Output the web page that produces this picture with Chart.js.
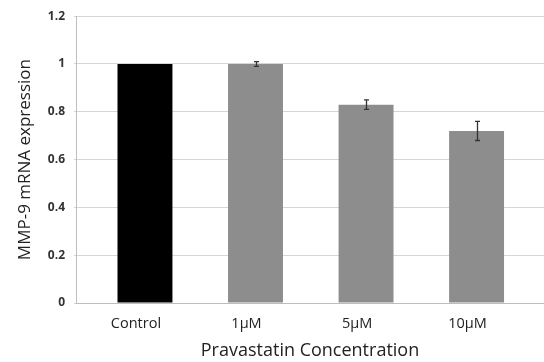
<!DOCTYPE html>
<html>
<head>
<meta charset="utf-8">
<script src="https://cdn.jsdelivr.net/npm/chart.js@4.4.1/dist/chart.umd.min.js"></script>
<style>
  html, body { margin: 0; padding: 0; background: #fff; overflow: hidden; }
  #wrap { width: 544px; height: 362px; }
</style>
</head>
<body>
<div id="wrap"><canvas id="barChart"></canvas></div>
<script>
// datos
const categories = ['Control', '1µM', '5µM', '10µM'];
const expression = [1, 1.0, 0.83, 0.72];
const errors = [0, 0.01, 0.02, 0.04];
const yTicks = [0, 0.2, 0.4, 0.6, 0.8, 1, 1.2];

const FONT = '"Open Sans", Lato, sans-serif';

// barras de error dibujadas con las escalas del grafico
const errorBars = {
    id: 'errorBars',
    afterDatasetsDraw(chart) {
        const { ctx, scales: { x, y } } = chart;
        ctx.save();
        ctx.strokeStyle = '#333';
        ctx.lineWidth = 1.3;
        expression.forEach((v, i) => {
            if (!errors[i]) return;
            const px = Math.round(x.getPixelForValue(i)) + 0.5;
            const top = y.getPixelForValue(v + errors[i]);
            const bot = y.getPixelForValue(v - errors[i]);
            ctx.beginPath();
            ctx.moveTo(px, top); ctx.lineTo(px, bot);
            ctx.moveTo(px - 2.5, top); ctx.lineTo(px + 2.5, top);
            ctx.moveTo(px - 2.5, bot); ctx.lineTo(px + 2.5, bot);
            ctx.stroke();
        });
        ctx.restore();
    }
};

const ctx = document.getElementById('barChart').getContext('2d');
new Chart(ctx, {
    type: 'bar',
    data: {
        datasets: [{
            data: expression.map((v, i) => ({ x: i, y: v })),
            backgroundColor: categories.map((c, i) => i === 0 ? '#000000' : '#8d8d8d'),
            borderWidth: 0,
            barPercentage: 0.497,
            categoryPercentage: 1
        }]
    },
    options: {
        responsive: true,
        maintainAspectRatio: false,
        animation: false,
        layout: { padding: { top: 8, right: 0, left: 0, bottom: 0 } },
        plugins: { legend: { display: false }, tooltip: { enabled: false } },
        scales: {
            x: {
                type: 'linear',
                offset: false,
                min: -0.624,
                max: 3.61,
                afterBuildTicks: s => { s.ticks = categories.map((c, i) => ({ value: i })); },
                afterFit: s => { s.height = 59; },
                ticks: {
                    callback: v => categories[v],
                    autoSkip: false,
                    maxRotation: 0,
                    padding: 4,
                    labelOffset: -9,
                    color: '#222',
                    font: { family: FONT, size: 14.5 }
                },
                grid: { display: false },
                border: { display: true, color: '#bdbdbd', width: 1 },
                title: {
                    display: true,
                    text: 'Pravastatin Concentration',
                    color: '#222',
                    font: { family: FONT, size: 18 },
                    padding: { top: 3, bottom: 0 }
                }
            },
            y: {
                min: 0,
                max: 1.2,
                afterBuildTicks: s => { s.ticks = yTicks.map(v => ({ value: v })); },
                afterFit: s => { s.width = 76; },
                ticks: {
                    callback: v => String(+v.toFixed(1)),
                    padding: 9,
                    color: '#333',
                    font: { family: FONT, size: 12, weight: 'bold' }
                },
                grid: { color: '#d6d6d6', tickLength: 2 },
                border: { display: true, color: '#bdbdbd', width: 1 },
                title: {
                    display: true,
                    text: 'MMP-9 mRNA expression',
                    color: '#222',
                    font: { family: FONT, size: 17 },
                    padding: { top: 15, bottom: 0 }
                }
            }
        }
    },
    plugins: [errorBars]
});
</script>
</body>
</html>
